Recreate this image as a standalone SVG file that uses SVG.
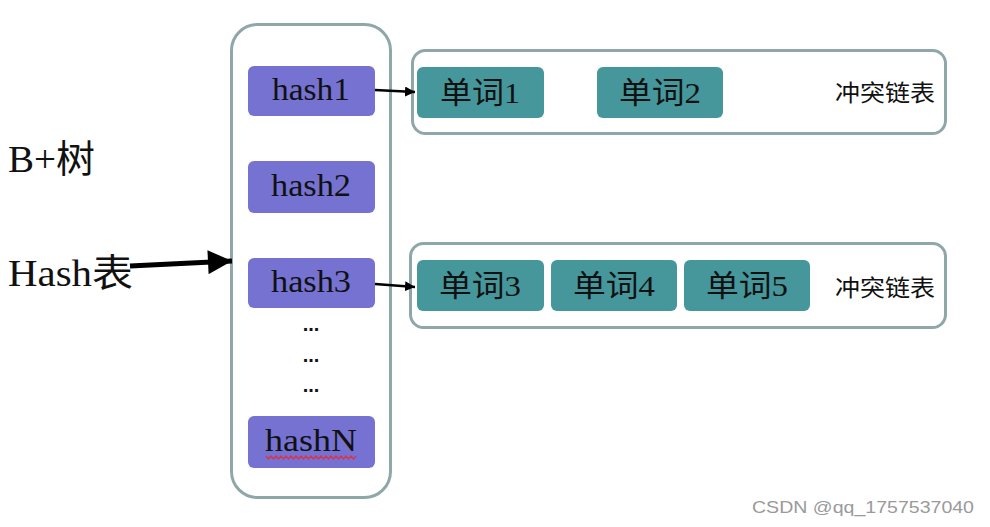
<svg xmlns="http://www.w3.org/2000/svg" width="990" height="527" viewBox="0 0 990 527">
<style>
.frame{fill:#fff;stroke:#8fa7a9;stroke-width:3}
.hash{fill:#7572d1}
.word{fill:#45979c}
.ht{font-family:"Liberation Serif","DejaVu Serif",serif;font-size:31px;fill:#111;text-anchor:middle}
.wt{font-family:"Liberation Serif","Noto Sans CJK SC",serif;font-size:30px;fill:#111;text-anchor:middle}
.lab{font-family:"Noto Sans CJK SC","Liberation Sans",sans-serif;font-size:23px;fill:#111}
.big{font-family:"Liberation Serif","Noto Sans CJK SC",serif;font-size:38px;fill:#111}
.dots{font-family:"Liberation Sans",sans-serif;font-size:20px;font-weight:bold;fill:#111;text-anchor:middle}
</style>
<defs>
<marker id="sm" viewBox="0 0 10 10" refX="10" refY="5" markerWidth="10" markerHeight="10" markerUnits="userSpaceOnUse" orient="auto">
<path d="M0,0 L10,5 L0,10 z" fill="#000"/>
</marker>
<marker id="bg" viewBox="0 0 10 10" refX="10" refY="5" markerWidth="26" markerHeight="24" markerUnits="userSpaceOnUse" orient="auto">
<path d="M0,0 L10,5 L0,10 z" fill="#000"/>
</marker>
</defs>
<rect width="990" height="527" fill="#fff"/>
<g id="labels">
<text class="big" x="8" y="172" textLength="87" lengthAdjust="spacingAndGlyphs">B+树</text>
<text class="big" x="8" y="286" textLength="125" lengthAdjust="spacingAndGlyphs">Hash表</text>
</g>
<g id="hashtable">
<rect class="frame" x="231.5" y="24.5" width="159" height="473" rx="26"/>
</g>
<g id="hash1"><rect class="hash" x="248" y="66" width="127" height="50" rx="6"/><text class="ht" x="311" y="100" textLength="78" lengthAdjust="spacingAndGlyphs">hash1</text></g>
<g id="hash2"><rect class="hash" x="248" y="161" width="127" height="52" rx="6"/><text class="ht" x="311" y="196" textLength="80" lengthAdjust="spacingAndGlyphs">hash2</text></g>
<g id="hash3"><rect class="hash" x="248" y="258" width="127" height="50" rx="6"/><text class="ht" x="311" y="292" textLength="80" lengthAdjust="spacingAndGlyphs">hash3</text></g>
<g id="dots">
<text class="dots" x="311" y="331">...</text>
<text class="dots" x="311" y="362">...</text>
<text class="dots" x="311" y="392">...</text>
</g>
<g id="hashN"><rect class="hash" x="248" y="416" width="127" height="52" rx="6"/><text class="ht" x="311" y="451" textLength="92" lengthAdjust="spacingAndGlyphs">hashN</text>
<path d="M266,456 l2.5,3 l2.5,-3 l2.5,3 l2.5,-3 l2.5,3 l2.5,-3 l2.5,3 l2.5,-3 l2.5,3 l2.5,-3 l2.5,3 l2.5,-3 l2.5,3 l2.5,-3 l2.5,3 l2.5,-3 l2.5,3 l2.5,-3 l2.5,3 l2.5,-3 l2.5,3 l2.5,-3 l2.5,3 l2.5,-3 l2.5,3 l2.5,-3 l2.5,3 l2.5,-3 l2.5,3 l2.5,-3 l2.5,3 l2.5,-3 l2.5,3 l2.5,-3 l2.5,3 l2.5,-3" fill="none" stroke="#d8344a" stroke-width="1.3"/>
</g>
<g id="chain1">
<rect class="frame" x="412.5" y="50.5" width="533" height="83" rx="13"/>
<text class="lab" x="835" y="101" textLength="100" lengthAdjust="spacingAndGlyphs">冲突链表</text>
</g>
<g id="w1"><rect class="word" x="417" y="67" width="127" height="51" rx="6"/><text class="wt" x="480" y="103" textLength="80" lengthAdjust="spacingAndGlyphs">单词1</text></g>
<g id="w2"><rect class="word" x="597" y="67" width="126" height="51" rx="6"/><text class="wt" x="660" y="103" textLength="82" lengthAdjust="spacingAndGlyphs">单词2</text></g>
<g id="chain2">
<rect class="frame" x="410.5" y="243.5" width="535" height="84" rx="13"/>
<text class="lab" x="835" y="296" textLength="100" lengthAdjust="spacingAndGlyphs">冲突链表</text>
</g>
<g id="w3"><rect class="word" x="417" y="260" width="127" height="51" rx="6"/><text class="wt" x="480" y="296" textLength="82" lengthAdjust="spacingAndGlyphs">单词3</text></g>
<g id="w4"><rect class="word" x="551" y="260" width="126" height="51" rx="6"/><text class="wt" x="614" y="296" textLength="82" lengthAdjust="spacingAndGlyphs">单词4</text></g>
<g id="w5"><rect class="word" x="684" y="260" width="126" height="51" rx="6"/><text class="wt" x="747" y="296" textLength="82" lengthAdjust="spacingAndGlyphs">单词5</text></g>
<g id="connectors">
<line x1="375" y1="90" x2="415" y2="92" stroke="#000" stroke-width="2.5" marker-end="url(#sm)"/>
<line x1="375" y1="284" x2="415" y2="287" stroke="#000" stroke-width="2.5" marker-end="url(#sm)"/>
<line x1="130" y1="266" x2="232" y2="261" stroke="#000" stroke-width="5" marker-end="url(#bg)"/>
</g>
<text x="752" y="513" font-family="Liberation Sans,Arial,sans-serif" font-size="17" fill="#9a9a9a" textLength="222" lengthAdjust="spacingAndGlyphs">CSDN @qq_1757537040</text>
</svg>
